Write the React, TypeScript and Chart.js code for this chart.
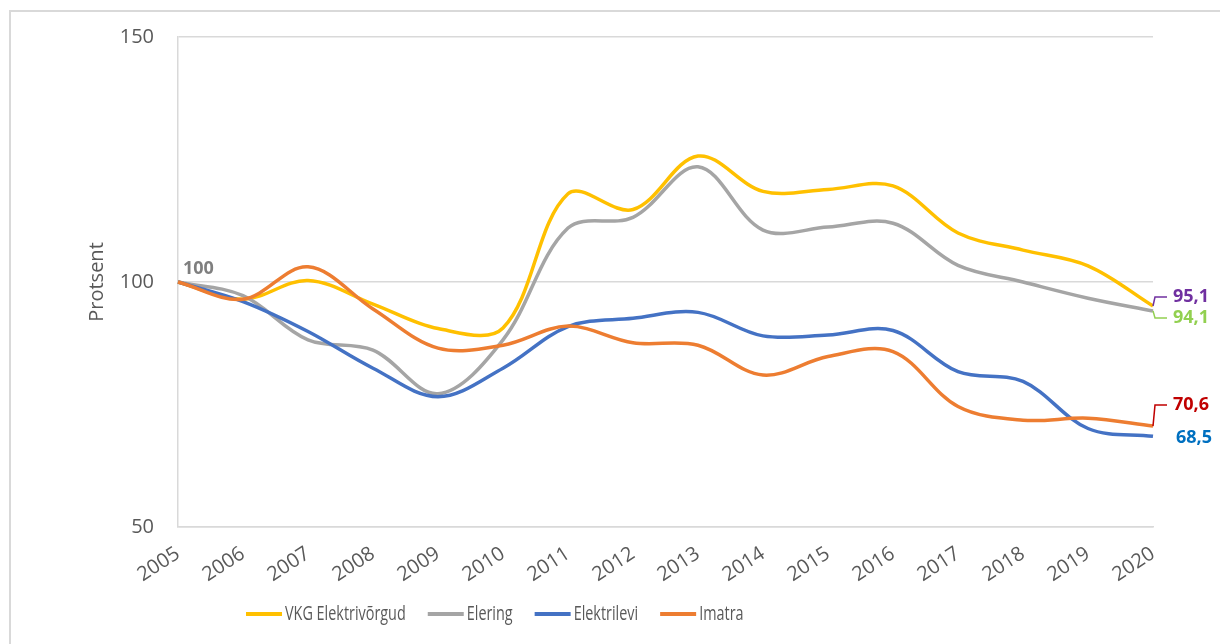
import React, { useEffect, useRef } from "react";
import { Chart, registerables } from "chart.js";

Chart.register(...registerables);

const years = ["2005", "2006", "2007", "2008", "2009", "2010", "2011", "2012", "2013", "2014", "2015", "2016", "2017", "2018", "2019", "2020"];
const vkg = [100, 96.5, 100.3, 95.5, 90.5, 90.6, 118, 114.8, 125.7, 118.5, 118.9, 119.6, 110, 106.5, 103.3, 95.1];
const elering = [100, 97.2, 88.2, 86.1, 77.2, 88.2, 111, 113.2, 123.5, 110.6, 111.2, 112, 103.4, 100, 96.7, 94.1];
const elektrilevi = [100, 96, 89.9, 82.4, 76.6, 82.4, 90.9, 92.6, 93.8, 89, 89.2, 90.1, 81.7, 79.7, 70.1, 68.5];
const imatra = [100, 96.5, 103.1, 94.5, 86.5, 87.1, 91, 87.6, 87.1, 81, 84.8, 85.8, 74.6, 71.8, 72.2, 70.6];
const seriesNames = ["VKG Elektrivõrgud", "Elering", "Elektrilevi", "Imatra"];
const seriesColors = ["#FFC000", "#A5A5A5", "#4472C4", "#ED7D31"];
const seriesData = [vkg, elering, elektrilevi, imatra];
const yMin = 50;
const yMax = 150;
const yStep = 50;

// end-of-series labels: which series, colour, vertical shift, leader line
const endLabels = [
  { series: 0, color: "#7030A0", dy: -9, dx: 20, leader: true },
  { series: 1, color: "#92D050", dy: 7, dx: 20, leader: true },
  { series: 3, color: "#C00000", dy: -21, dx: 20, leader: true },
  { series: 2, color: "#0070C0", dy: 2, dx: 23, leader: false },
];

const fmt = (v: number) => v.toFixed(1).replace(".", ",");

const annotPlugin = {
  id: "annot",
  afterDatasetsDraw(chart: any) {
    const { ctx, scales } = chart;
    const x = scales.x;
    const y = scales.y;
    ctx.save();
    ctx.textBaseline = "middle";
    ctx.textAlign = "left";
    ctx.font = 'bold 18px "Open Sans"';
    // first-point label
    const x0 = x.getPixelForValue(0);
    const y0 = y.getPixelForValue(elering[0]);
    ctx.fillStyle = "#7F7F7F";
    ctx.fillText(String(elering[0]), x0 + 5, y0 - 13);
    endLabels.forEach((l) => {
      const d = seriesData[l.series];
      const last = d.length - 1;
      const px = x.getPixelForValue(last);
      const py = y.getPixelForValue(d[last]);
      const ty = py + l.dy;
      if (l.leader) {
        ctx.strokeStyle = l.color;
        ctx.lineWidth = 1.5;
        ctx.beginPath();
        ctx.moveTo(px, py);
        ctx.lineTo(px + 2, ty);
        ctx.lineTo(px + 14, ty);
        ctx.stroke();
      }
      ctx.fillStyle = l.color;
      ctx.fillText(fmt(d[last]), px + l.dx, ty);
    });
    ctx.restore();
  },
};

const legendPlugin = {
  id: "customLegend",
  afterDraw(chart: any) {
    const { ctx } = chart;
    ctx.save();
    let cx = 246;
    const cy = 614;
    const sx = 0.72;
    ctx.font = '20px "Open Sans"';
    ctx.textBaseline = "middle";
    ctx.textAlign = "left";
    chart.data.datasets.forEach((ds: any) => {
      ctx.strokeStyle = ds.borderColor;
      ctx.lineWidth = 4;
      ctx.beginPath();
      ctx.moveTo(cx, cy);
      ctx.lineTo(cx + 36, cy);
      ctx.stroke();
      const tx = cx + 39;
      const w = ctx.measureText(ds.label).width * sx;
      ctx.save();
      ctx.translate(tx, cy);
      ctx.scale(sx, 1);
      ctx.fillStyle = "#595959";
      ctx.fillText(ds.label, 0, 0);
      ctx.restore();
      cx = tx + w + 22;
    });
    ctx.restore();
  },
};

export default function App() {
  const ref = useRef<HTMLCanvasElement | null>(null);
  useEffect(() => {
    if (!ref.current) return;
    Chart.defaults.font.family = '"Open Sans"';
    const chart = new Chart(ref.current, {
      type: "line",
      data: {
        labels: years,
        datasets: seriesNames.map((name, i) => ({
          label: name,
          data: seriesData[i],
          borderColor: seriesColors[i],
          backgroundColor: seriesColors[i],
          borderWidth: 3.5,
          pointRadius: 0,
          tension: 0.35,
          fill: false,
          order: seriesNames.length - i,
        })),
      },
      options: {
        animation: false,
        responsive: false,
        maintainAspectRatio: false,
        layout: { padding: { left: 0, right: 67, top: 37, bottom: 0 } },
        plugins: {
          legend: { display: false },
          tooltip: { enabled: false },
        },
        scales: {
          x: {
            type: "category",
            offset: false,
            grid: { display: false, drawTicks: false },
            border: { display: true, color: "#D9D9D9", width: 1.5 },
            ticks: {
              color: "#595959",
              font: { size: 20 },
              minRotation: 33,
              maxRotation: 33,
              padding: 15,
              autoSkip: false,
            },
            afterFit: (s: any) => {
              s.height = 117;
            },
          },
          y: {
            min: yMin,
            max: yMax,
            grid: { color: "#D9D9D9", lineWidth: 1.5, drawTicks: false },
            border: { display: true, color: "#D9D9D9", width: 1.5 },
            ticks: {
              stepSize: yStep,
              color: "#595959",
              font: { size: 20 },
              padding: 24,
            },
            title: {
              display: true,
              text: "Protsent",
              color: "#595959",
              font: { size: 20 },
              padding: { top: 85, bottom: 0 },
            },
            afterFit: (s: any) => {
              s.width = 178;
            },
          },
        },
      },
      plugins: [annotPlugin, legendPlugin],
    });
    if ((document as any).fonts && (document as any).fonts.ready) {
      (document as any).fonts.ready.then(() => chart.update());
    }
    return () => chart.destroy();
  }, []);
  return (
    <>
      <div
        style={{
          position: "fixed",
          left: 9,
          top: 10,
          width: 1220,
          height: 644,
          borderLeft: "2px solid #D9D9D9",
          borderTop: "2px solid #D9D9D9",
          boxSizing: "border-box",
        }}
      />
      <canvas
        ref={ref}
        width={1220}
        height={644}
        style={{ position: "fixed", left: 0, top: 0, width: 1220, height: 644 }}
      />
    </>
  );
}
